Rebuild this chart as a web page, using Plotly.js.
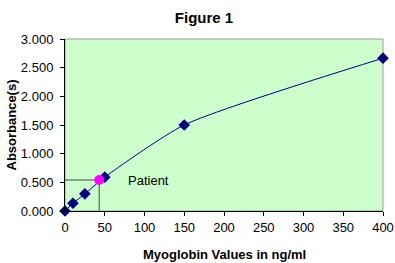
<!DOCTYPE html>
<html><head><meta charset="utf-8">
<script src="https://cdn.plot.ly/plotly-3.0.1.min.js"></script>
<style>html,body{margin:0;padding:0;background:#fff;}#chart{width:395px;height:263px;}</style>
</head><body><div id="chart"></div>
<script>
var concentrations = [0, 10, 25, 50, 150, 400];
var absorbances = [0.0, 0.135, 0.30, 0.59, 1.50, 2.665];
var patientX = [43];
var patientY = [0.54];
var xTicks = [0, 50, 100, 150, 200, 250, 300, 350, 400];
var yTicks = [0, 0.5, 1.0, 1.5, 2.0, 2.5, 3.0];

var traces = [
  {x: [0, patientX[0], patientX[0]], y: [patientY[0], patientY[0], 0], mode: 'lines',
   line: {color: '#3c4a3c', width: 1}, hoverinfo: 'skip', cliponaxis: false},
  {x: concentrations, y: absorbances, mode: 'lines+markers',
   line: {color: '#000080', width: 1, shape: 'spline', smoothing: 0.6},
   marker: {symbol: 'diamond', size: 9, color: '#000080'}, cliponaxis: false},
  {x: patientX, y: patientY, mode: 'markers',
   marker: {symbol: 'circle', size: 10, color: '#FF00FF'}, cliponaxis: false}
];

var layout = {
  width: 395, height: 263,
  margin: {l: 65, r: 12, t: 39, b: 52},
  paper_bgcolor: '#ffffff', plot_bgcolor: '#CCFFCC',
  showlegend: false,
  font: {family: 'Liberation Sans, Arial, sans-serif', size: 13, color: '#000'},
  title: {text: '<b>Figure 1</b>', x: 204/395, xanchor: 'center', xref: 'container', y: 1 - 18/263, yref: 'container', yanchor: 'middle',
          font: {size: 15, family: 'Liberation Sans, Arial, sans-serif', color: '#000'}},
  xaxis: {range: [0, 400], tickvals: xTicks, ticktext: xTicks.map(String),
          showgrid: false, zeroline: false, showline: true, linecolor: '#000', linewidth: 1,
          ticks: 'outside', ticklen: 4, tickcolor: '#000', tickfont: {size: 13}},
  yaxis: {range: [0, 3], tickvals: yTicks, ticktext: yTicks.map(function(v){return v.toFixed(3);}),
          showgrid: false, zeroline: false, showline: true, linecolor: '#000', linewidth: 1,
          ticks: 'outside', ticklen: 4, tickcolor: '#000', tickfont: {size: 13}, ticklabelstandoff: 4,
          title: {text: '<b>Absorbance(s)</b>', standoff: 1, font: {size: 13}}},
  shapes: [{type: 'rect', xref: 'x domain', yref: 'y domain', x0: 0, x1: 1, y0: 0, y1: 1,
            line: {color: '#9a9a9a', width: 1}, layer: 'below'}],
  annotations: [
    {x: 77, y: patientY[0], xref: 'x', yref: 'y', text: 'Patient', showarrow: false,
     xanchor: 'left', yanchor: 'middle', font: {size: 13, color: '#000'}},
    {x: 0.5, y: -(254.5 - 211) / 172, xref: 'paper', yref: 'paper', text: '<b>Myoglobin Values in ng/ml</b>',
     showarrow: false, xanchor: 'center', yanchor: 'middle', font: {size: 13, color: '#000'}}
  ]
};

Plotly.newPlot('chart', traces, layout, {displayModeBar: false, staticPlot: true});
</script></body></html>
